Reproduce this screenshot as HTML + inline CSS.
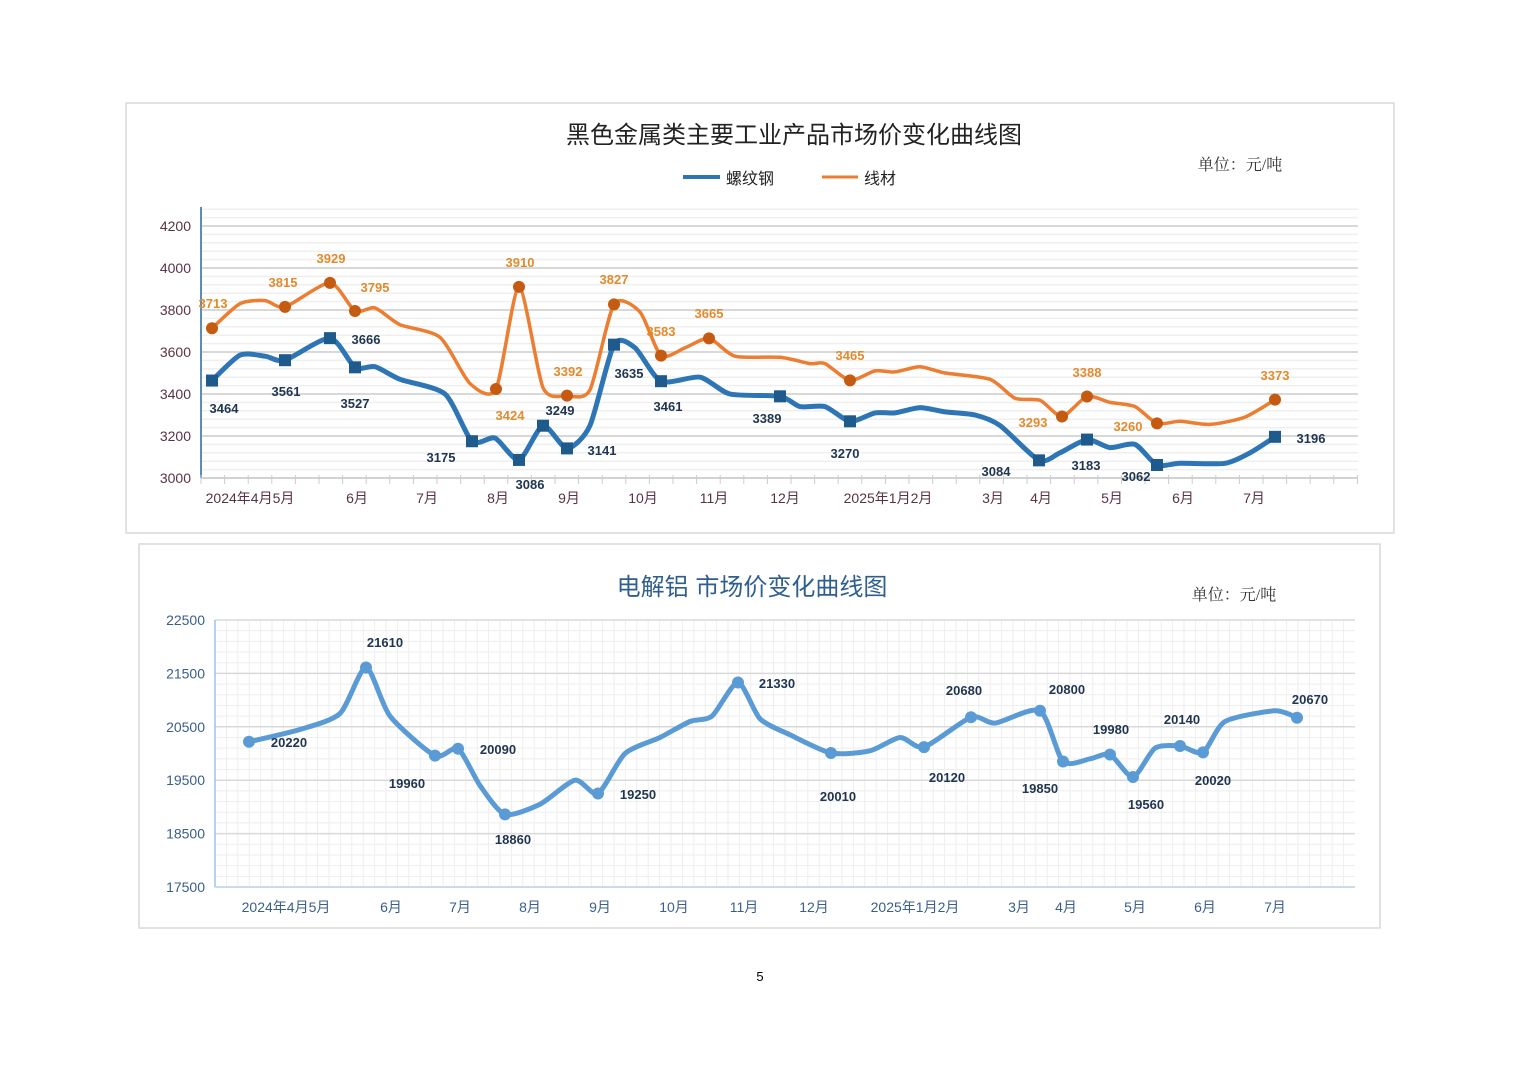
<!DOCTYPE html>
<html><head><meta charset="utf-8"><style>
html,body{margin:0;padding:0;background:#fff;}
svg{display:block;font-family:"Liberation Sans","Noto Sans CJK SC",sans-serif;}
</style></head><body>
<svg id="s" width="1520" height="1074" viewBox="0 0 1520 1074" xmlns="http://www.w3.org/2000/svg">
<rect x="126" y="103" width="1268" height="430" fill="#fff" stroke="#d9d9d9" stroke-width="1.5"/>
<rect x="139" y="544" width="1241" height="384" fill="#fff" stroke="#d9d9d9" stroke-width="1.5"/>
<g id="g1"></g><g id="g2"></g>
<text x="794" y="143" font-size="24" text-anchor="middle" fill="#222">黑色金属类主要工业产品市场价变化曲线图</text>
<line x1="683" y1="177" x2="720" y2="177" stroke="#2e75b6" stroke-width="4"/>
<text x="726" y="184" font-size="16" fill="#222">螺纹钢</text>
<line x1="822" y1="177" x2="858" y2="177" stroke="#ed7d31" stroke-width="3"/>
<text x="864" y="184" font-size="16" fill="#222">线材</text>
<text x="1240" y="170" font-size="16" text-anchor="middle" fill="#333" font-family="'Liberation Serif','Noto Serif CJK SC',serif">单位：元/吨</text>
<text x="752" y="595" font-size="24" text-anchor="middle" fill="#2f5f8e">电解铝 市场价变化曲线图</text>
<text x="1234" y="600" font-size="16" text-anchor="middle" fill="#333" font-family="'Liberation Serif','Noto Serif CJK SC',serif">单位：元/吨</text>
<text x="760" y="981" font-size="13" text-anchor="middle" fill="#000">5</text>
</svg>
<script>
const NS="http://www.w3.org/2000/svg";
function el(p,t,a,txt){const e=document.createElementNS(NS,t);for(const k in a)e.setAttribute(k,a[k]);if(txt!==undefined)e.textContent=txt;p.appendChild(e);return e;}
function smooth(pts){let d="M"+pts[0][0]+","+pts[0][1];for(let i=0;i<pts.length-1;i++){const p0=pts[i-1]||pts[i],p1=pts[i],p2=pts[i+1],p3=pts[i+2]||p2;const t=0.12;const c1=[p1[0]+(p2[0]-p0[0])*t,p1[1]+(p2[1]-p0[1])*t],c2=[p2[0]-(p3[0]-p1[0])*t,p2[1]-(p3[1]-p1[1])*t];d+=` C${c1[0].toFixed(1)},${c1[1].toFixed(1)} ${c2[0].toFixed(1)},${c2[1].toFixed(1)} ${p2[0]},${p2[1].toFixed(1)}`;}return d;}
const g1=document.getElementById("g1");
const y1=v=>478-(v-3000)*0.21;
for(let v=3000;v<=4300;v+=40){const y=y1(v);if(y<208)break;el(g1,"line",{x1:201,x2:1358,y1:y,y2:y,stroke:(v%200==0)?"#d8d8d8":"#efefef","stroke-width":(v%200==0)?2:1.5});}
el(g1,"line",{x1:201,x2:201,y1:207,y2:478,stroke:"#5b8db8","stroke-width":2});
el(g1,"line",{x1:201,x2:1358,y1:478,y2:478,stroke:"#d0d0d0","stroke-width":1.5});
for(let x=201;x<=1358;x+=23.6)el(g1,"line",{x1:x,x2:x,y1:475,y2:484,stroke:"#ccc"});
for(let v=3000;v<=4200;v+=200)el(g1,"text",{x:191,y:y1(v)+5,"font-size":14,"text-anchor":"end",fill:"#5a3246"},v);
[["2024年4月5月",250],["6月",357],["7月",427],["8月",498],["9月",569],["10月",643],["11月",714],["12月",785],["2025年1月2月",888],["3月",993],["4月",1041],["5月",1112],["6月",1183],["7月",1254]].forEach(a=>el(g1,"text",{x:a[1],y:503,"font-size":14,"text-anchor":"middle",fill:"#5a3246"},a[0]));
const blue=[[212,3464],[240,3585],[265,3580],[285,3561],[330,3666],[355,3527],[375,3530],[400,3470],[445,3400],[472,3175],[495,3190],[519,3086],[543,3249],[567,3141],[590,3250],[614,3635],[635,3620],[661,3461],[700,3480],[730,3400],[780,3389],[800,3340],[825,3340],[850,3270],[875,3310],[895,3310],[920,3335],[945,3315],[975,3300],[1000,3250],[1039,3084],[1060,3120],[1087,3183],[1110,3145],[1135,3160],[1157,3062],[1180,3070],[1225,3070],[1250,3120],[1275,3196]];
const orange=[[212,3713],[240,3830],[265,3845],[285,3815],[330,3929],[355,3795],[375,3810],[400,3730],[440,3670],[470,3450],[496,3424],[519,3910],[543,3430],[567,3392],[590,3420],[614,3827],[640,3790],[661,3583],[685,3620],[709,3665],[735,3580],[780,3575],[810,3545],[825,3545],[850,3465],[875,3510],[895,3505],[920,3530],[945,3500],[990,3470],[1015,3380],[1040,3370],[1062,3293],[1087,3388],[1110,3360],[1135,3340],[1157,3260],[1180,3270],[1210,3255],[1245,3290],[1275,3373]];
el(g1,"path",{d:smooth(orange.map(p=>[p[0],y1(p[1])])),fill:"none",stroke:"#ed7d31","stroke-width":3.5});
el(g1,"path",{d:smooth(blue.map(p=>[p[0],y1(p[1])])),fill:"none",stroke:"#2e75b6","stroke-width":5});
const om=[[212,3713,213,308],[285,3815,283,287],[330,3929,331,263],[355,3795,375,292],[496,3424,510,420],[519,3910,520,267],[567,3392,568,376],[614,3827,614,284],[661,3583,661,336],[709,3665,709,318],[850,3465,850,360],[1062,3293,1033,427],[1087,3388,1087,377],[1157,3260,1128,431],[1275,3373,1275,380]];
om.forEach(a=>{el(g1,"circle",{cx:a[0],cy:y1(a[1]),r:6,fill:"#c55a11"});el(g1,"text",{x:a[2],y:a[3],"font-size":13,"font-weight":"bold","text-anchor":"middle",fill:"#e38a2c"},a[1]);});
const bm=[[212,3464,224,413],[285,3561,286,396],[330,3666,366,344],[355,3527,355,408],[472,3175,441,462],[519,3086,530,489],[543,3249,560,415],[567,3141,602,455],[614,3635,629,378],[661,3461,668,411],[780,3389,767,423],[850,3270,845,458],[1039,3084,996,476],[1087,3183,1086,470],[1157,3062,1136,481],[1275,3196,1311,443]];
bm.forEach(a=>{const y=y1(a[1]);el(g1,"rect",{x:a[0]-6,y:y-6,width:12,height:12,fill:"#1f5a8c"});el(g1,"text",{x:a[2],y:a[3],"font-size":13,"font-weight":"bold","text-anchor":"middle",fill:"#1f3550"},a[1]);});
const g2=document.getElementById("g2");
const y2=v=>887-(v-17500)*0.0534;
for(let x=215;x<=1355;x+=11.4)el(g2,"line",{x1:x,x2:x,y1:620,y2:887,stroke:"#eeeeee"});
for(let v=17500;v<=22500;v+=200){const y=y2(v);el(g2,"line",{x1:215,x2:1355,y1:y,y2:y,stroke:(v%1000==500)?"#d9d9d9":"#eeeeee","stroke-width":(v%1000==500)?1.5:1});}
el(g2,"line",{x1:215,x2:215,y1:620,y2:887,stroke:"#9dc3e6","stroke-width":1.5});
el(g2,"line",{x1:215,x2:1355,y1:887,y2:887,stroke:"#bdd7ee","stroke-width":1.5});
for(let v=17500;v<=22500;v+=1000)el(g2,"text",{x:205,y:y2(v)+5,"font-size":14,"text-anchor":"end",fill:"#3a5f8a"},v);
[["2024年4月5月",286],["6月",391],["7月",460],["8月",530],["9月",600],["10月",674],["11月",744],["12月",814],["2025年1月2月",915],["3月",1019],["4月",1066],["5月",1135],["6月",1205],["7月",1275]].forEach(a=>el(g2,"text",{x:a[1],y:912,"font-size":14,"text-anchor":"middle",fill:"#3a5f8a"},a[0]));
const al=[[249,20220],[300,20450],[340,20750],[366,21610],[390,20700],[435,19960],[458,20090],[480,19400],[505,18860],[540,19050],[575,19500],[598,19250],[625,20000],[660,20300],[690,20600],[712,20700],[738,21330],[760,20650],[790,20350],[831,20010],[870,20050],[900,20300],[924,20120],[971,20680],[995,20570],[1040,20800],[1063,19850],[1090,19900],[1110,19980],[1133,19560],[1155,20100],[1180,20140],[1203,20020],[1225,20600],[1275,20800],[1297,20670]];
el(g2,"path",{d:smooth(al.map(p=>[p[0],y2(p[1])])),fill:"none",stroke:"#5b9bd5","stroke-width":5});
const am=[[249,20220,289,747],[366,21610,385,647],[435,19960,407,788],[458,20090,498,754],[505,18860,513,844],[598,19250,638,799],[738,21330,777,688],[831,20010,838,801],[924,20120,947,782],[971,20680,964,695],[1040,20800,1067,694],[1063,19850,1040,793],[1110,19980,1111,734],[1133,19560,1146,809],[1180,20140,1182,724],[1203,20020,1213,785],[1297,20670,1310,704]];
am.forEach(a=>{el(g2,"circle",{cx:a[0],cy:y2(a[1]),r:6,fill:"#5b9bd5"});el(g2,"text",{x:a[2],y:a[3],"font-size":13,"font-weight":"bold","text-anchor":"middle",fill:"#1f3550"},a[1]);});
</script>
</body></html>
